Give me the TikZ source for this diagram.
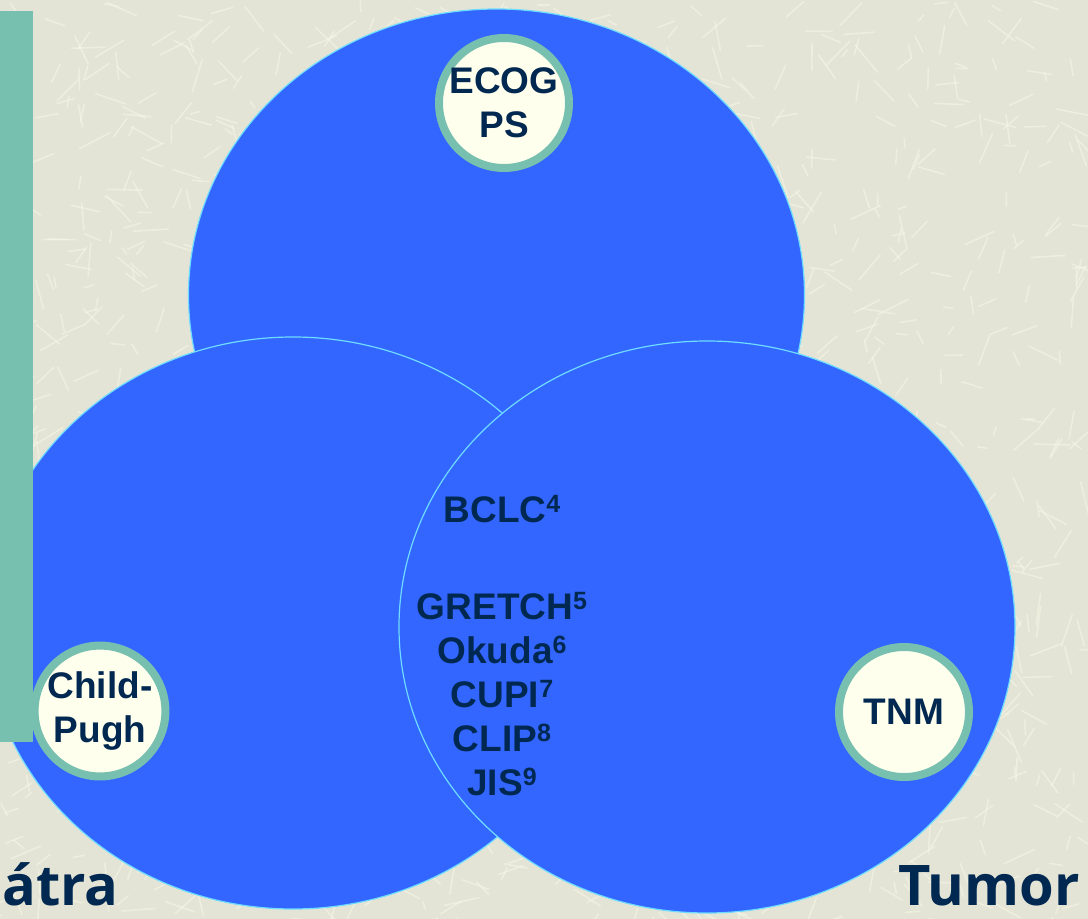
\documentclass[tikz,border=0pt]{standalone}
\usepackage{fontspec}
\setmainfont{Liberation Sans}
\newfontfamily\bigfont{Open Sans}
\usepackage{tikz}
\usetikzlibrary{positioning}
\definecolor{paper}{RGB}{228,228,214}
\definecolor{paperlight}{RGB}{248,248,232}
\definecolor{setblue}{RGB}{51,102,255}
\definecolor{setedge}{RGB}{110,220,255}
\definecolor{sagegreen}{RGB}{119,192,176}
\definecolor{ivory}{RGB}{255,255,238}
\definecolor{inknavy}{RGB}{0,40,80}
\newcommand{\refno}[1]{\raisebox{10pt}{\fontsize{25}{25}\selectfont #1}}

\begin{document}
\begin{tikzpicture}[
  x=1pt, y=-1pt,
  scratch/.style={paperlight, opacity=0.5, line width=1.6pt, line cap=round},
  bigset/.style={draw=setedge, fill=setblue, line width=1.2pt},
  score/.style={circle, draw=sagegreen, fill=ivory, line width=8pt,
                minimum size=130pt, inner sep=0pt, align=center, text=inknavy,
                font=\bfseries\fontsize{37}{44}\selectfont},
  biglabel/.style={text=inknavy, inner sep=0pt, font=\bigfont\bfseries\fontsize{56}{58}\selectfont},
]
  \useasboundingbox (0,0) rectangle (1088,919);
  \clip (0,0) rectangle (1088,919);
  \fill[paper] (0,0) rectangle (1088,919);
  % background texture
  \pgfmathsetseed{11}
  \foreach \i in {1,...,1400}{
    \pgfmathsetmacro{\sx}{rnd*1088}
    \pgfmathsetmacro{\sy}{rnd*919}
    \pgfmathsetmacro{\sa}{rnd*180}
    \pgfmathsetmacro{\sl}{8+rnd*28}
    \draw[scratch] (\sx,\sy) -- ++(\sa:\sl);
  }

  % three sets
  \draw[bigset] (496.5,295) ellipse [x radius=308pt, y radius=286pt];
  \draw[bigset] (293,623) ellipse [x radius=308pt, y radius=286pt];
  \draw[bigset] (707,627) ellipse [x radius=308pt, y radius=286pt];

  \fill[sagegreen] (0,11) rectangle (33,742);

  \node[score] (ecog) at (504,103) {ECOG\\PS};
  \node[score] (childpugh) at (100,711) {Child-\\Pugh};
  \node[score] (tnm) at (904,712) {TNM};

  % scoring systems in the overlap
  \node[anchor=base, align=center, text=inknavy, inner sep=0pt,
        font=\bfseries\fontsize{37}{44}\selectfont] (scores) at (502,795)
    {BCLC\refno{4}\\[53pt]GRETCH\refno{5}\\Okuda\refno{6}\\CUPI\refno{7}\\CLIP\refno{8}\\JIS\refno{9}};

  \node[biglabel, anchor=base west] (liver) at (2,905) {átra};
  \node[biglabel, anchor=base east] (tumor) at (1080,905) {Tumor};
\end{tikzpicture}
\end{document}
